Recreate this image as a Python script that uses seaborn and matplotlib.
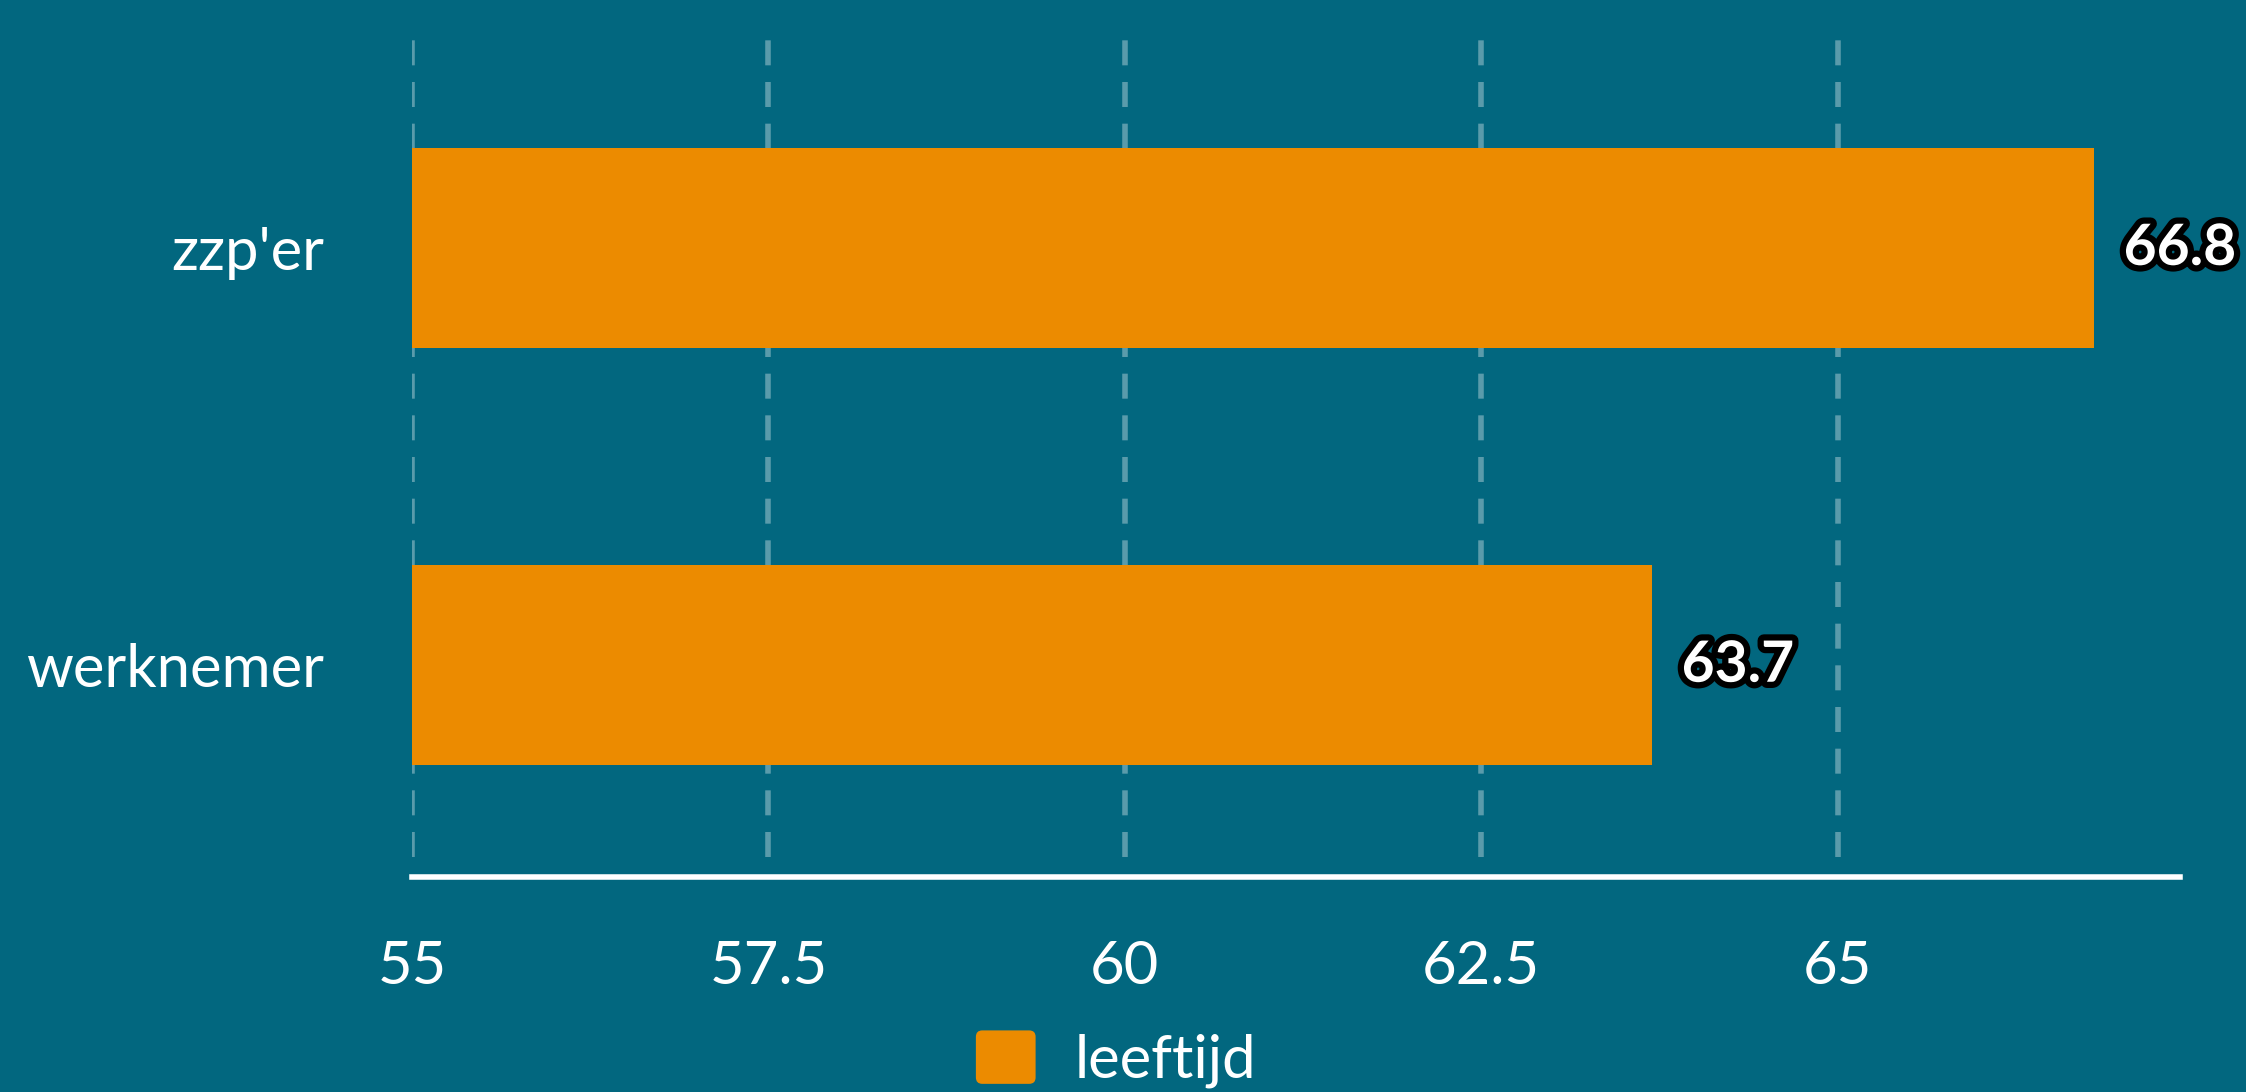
import pandas as pd
import seaborn as sns
import matplotlib.pyplot as plt
import matplotlib.patheffects as pe
from matplotlib.patches import FancyBboxPatch
from matplotlib.legend_handler import HandlerPatch

# Data
groepen = ["zzp'er", "werknemer"]
leeftijd = [66.8, 63.7]
x_ticks = [55, 57.5, 60, 62.5, 65]
x_labels = ["55", "57.5", "60", "62.5", "65"]

bg = '#02677f'
orange = '#ec8b00'

plt.rcParams['font.family'] = ['Lato', 'DejaVu Sans']

df = pd.DataFrame({'groep': groepen, 'leeftijd': leeftijd})
df = df.melt(id_vars='groep', var_name='variable', value_name='waarde')

fig = plt.figure(figsize=(22.46, 10.92), dpi=100, facecolor=bg)
ax = fig.add_axes([0.1834, 0.2152, 0.7872, 0.7482])
ax.set_facecolor(bg)

sns.barplot(data=df, x='waarde', y='groep', hue='variable', palette=[orange],
            width=0.48, orient='h', ax=ax, saturation=1)

ax.set_xlim(55, 67.4)
ax.set_ylim(1.46, -0.5)
ax.set_xticks(x_ticks)
ax.set_xticklabels(x_labels)
ax.set_xlabel('')
ax.set_ylabel('')

# grid + spines
ax.set_axisbelow(True)
ax.grid(axis='x', color='white', alpha=0.35, linewidth=4, linestyle=(0, (4.5, 3)))
ax.grid(axis='y', visible=False)
for s in ['top', 'right', 'left']:
    ax.spines[s].set_visible(False)
ax.spines['bottom'].set_color('white')
ax.spines['bottom'].set_linewidth(4)
ax.spines['bottom'].set_position(('outward', 14.4))
ax.tick_params(axis='x', length=0, pad=45, labelsize=43, labelcolor='white')
ax.tick_params(axis='y', length=0, pad=63, labelsize=43, labelcolor='white')

# value labels
ax.bar_label(ax.containers[0], fmt='%.1f', padding=21, color='white',
             fontsize=41, fontweight='bold',
             path_effects=[pe.withStroke(linewidth=9, foreground='black')])


class RoundHandler(HandlerPatch):
    def create_artists(self, legend, orig_handle, xdescent, ydescent,
                       width, height, fontsize, trans):
        p = FancyBboxPatch((-xdescent, -ydescent), width, height,
                           boxstyle='round,pad=0,rounding_size=%f' % (0.12 * height),
                           facecolor=orig_handle.get_facecolor(),
                           edgecolor='none', transform=trans)
        return [p]


handles, labels = ax.get_legend_handles_labels()
if ax.get_legend() is not None:
    ax.get_legend().remove()
leg = fig.legend(handles, ['leeftijd'], loc='center', bbox_to_anchor=(0.497, 0.03),
                 frameon=False, fontsize=43, handlelength=1, handleheight=1,
                 handletextpad=0.66, borderpad=0,
                 handler_map={type(handles[0]): RoundHandler()})
for t in leg.get_texts():
    t.set_color('white')

fig.savefig('out.png', dpi=100, facecolor=bg)
